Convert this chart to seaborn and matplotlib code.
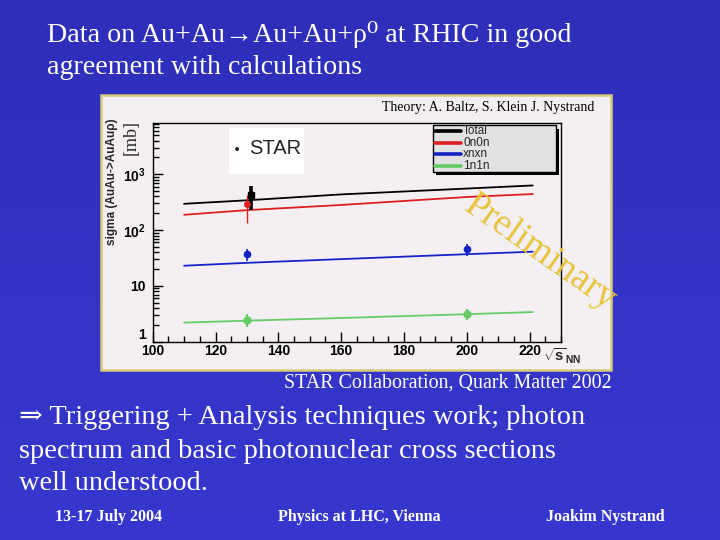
import numpy as np
import pandas as pd
import matplotlib
matplotlib.use("Agg")
import matplotlib.pyplot as plt
import seaborn as sns
from matplotlib.patches import Rectangle
from matplotlib.lines import Line2D
from matplotlib.ticker import FixedLocator, LogLocator, MultipleLocator, NullFormatter

# ---------------- data ----------------
sqrt_s = [110, 130, 160, 200, 221]
theory_total = [296, 342, 436, 555, 631]
theory_0n0n = [188, 228, 282, 392, 443]
theory_xnxn = [23, 25.9, 30.2, 37, 41]
theory_1n1n = [2.2, 2.38, 2.66, 3.11, 3.4]
series_names = ["Total", "0n0n", "xnxn", "1n1n"]
series_colors = ["#000000", "#dd1f1f", "#1424c4", "#66cc66"]

star_total_x = [131.2]
star_total_y = [418]
star_total_lo = [225]
star_total_hi = [624]

star_0n0n_x = [130]
star_0n0n_y = [296]
star_0n0n_lo = [134]
star_0n0n_hi = [430]

star_xnxn_x = [130, 200]
star_xnxn_y = [37, 46]
star_xnxn_lo = [28, 35]
star_xnxn_hi = [46, 56]

star_1n1n_x = [130, 200]
star_1n1n_y = [2.45, 3.1]
star_1n1n_lo = [1.8, 2.4]
star_1n1n_hi = [3.1, 3.9]

y_ticks = [1, 10, 100, 1000]
y_tick_labels = ["1", "10", r"$10^{2}$", r"$10^{3}$"]
x_ticks = [100, 120, 140, 160, 180, 200, 220]

# ---------------- style ----------------
sns.set_style("ticks")
plt.rcParams["font.family"] = ["Liberation Serif", "DejaVu Serif"]
plt.rcParams["mathtext.fontset"] = "custom"
plt.rcParams["mathtext.rm"] = "Liberation Sans:bold"
plt.rcParams["mathtext.it"] = "Liberation Sans:bold"
plt.rcParams["mathtext.bf"] = "Liberation Sans:bold"

W, H = 720, 540
fig = plt.figure(figsize=(7.2, 5.4), dpi=100)


def fx(x):
    return x / W


def fy(y):
    return 1 - y / H


# background gradient
bg = fig.add_axes([0, 0, 1, 1], zorder=-3)
grad = np.linspace(0, 1, 256).reshape(-1, 1)
top = np.array([0x2e, 0x2e, 0xba]) / 255
bot = np.array([0x37, 0x37, 0xcf]) / 255
img = top[None, None, :] * (1 - grad[:, :, None]) + bot[None, None, :] * grad[:, :, None]
bg.imshow(img, aspect="auto", extent=[0, 1, 0, 1])
bg.set_axis_off()

# chart panel
panel = Rectangle((fx(101), fy(370)), fx(611) - fx(101), fy(95) - fy(370),
                  transform=fig.transFigure, facecolor="#f3eff3",
                  edgecolor="#d6cc7a", linewidth=1.8, zorder=-2)
fig.patches.append(panel)

# main axes
ax = fig.add_axes([fx(152.7), fy(341.7), fx(561) - fx(152.7), fy(123.3) - fy(341.7)], zorder=0)
ax.set_facecolor("#f3eff3")

df = pd.DataFrame({
    "sqrt_s": sqrt_s * 4,
    "sigma": theory_total + theory_0n0n + theory_xnxn + theory_1n1n,
    "channel": [n for n in series_names for _ in sqrt_s],
})
sns.lineplot(data=df, x="sqrt_s", y="sigma", hue="channel", hue_order=series_names,
             palette=series_colors, linewidth=1.3, legend=False, ax=ax)

data_sets = [
    (star_total_x, star_total_y, star_total_lo, star_total_hi, series_colors[0], "s", 4.0, 2.6),
    (star_0n0n_x, star_0n0n_y, star_0n0n_lo, star_0n0n_hi, series_colors[1], "o", 4.0, 1.0),
    (star_xnxn_x, star_xnxn_y, star_xnxn_lo, star_xnxn_hi, series_colors[2], "o", 4.5, 1.2),
    (star_1n1n_x, star_1n1n_y, star_1n1n_lo, star_1n1n_hi, series_colors[3], "o", 5.0, 1.5),
]
for xs, ys, lo, hi, c, m, ms, elw in data_sets:
    ys = np.array(ys, float)
    yerr = [ys - np.array(lo), np.array(hi) - ys]
    ax.errorbar(xs, ys, yerr=yerr, fmt=m, color=c, ecolor=c, markersize=ms,
                elinewidth=elw, capsize=0, zorder=4)

ax.set_yscale("log")
ax.set_xlim(100, 230)
ax.set_ylim(1, 8200)
ax.yaxis.set_major_locator(FixedLocator(y_ticks))
ax.set_yticks(y_ticks)
ax.set_yticklabels(y_tick_labels)
ax.yaxis.set_minor_locator(LogLocator(base=10, subs=np.arange(2, 10)))
ax.yaxis.set_minor_formatter(NullFormatter())
ax.set_xticks(x_ticks)
ax.set_xticklabels([str(v) for v in x_ticks])
ax.xaxis.set_minor_locator(MultipleLocator(5))
ax.tick_params(which="both", direction="in", top=False, right=False, colors="black")
ax.tick_params(which="major", length=7, width=1)
ax.tick_params(which="minor", length=4, width=1)
ax.tick_params(axis="x", labelsize=10, pad=2)
ax.tick_params(axis="y", labelsize=10, pad=5)
for lab in ax.get_xticklabels() + ax.get_yticklabels():
    lab.set_fontfamily("Liberation Sans")
    lab.set_fontweight("bold")
ax.get_yticklabels()[0].set_va("bottom")
for s in ax.spines.values():
    s.set_visible(True)
    s.set_color("black")
    s.set_linewidth(1.0)
ax.set_xlabel("")
ax.set_ylabel("")

# axis titles
fig.text(fx(112), fy(182), "sigma (AuAu->AuAuρ)", rotation=90, ha="center", va="center",
         fontsize=8.5, fontweight="bold", family=["Liberation Sans", "DejaVu Sans"], zorder=3)
fig.text(fx(131), fy(137), "[mb]", rotation=90, ha="center", va="center",
         fontsize=13, family=["Liberation Serif", "DejaVu Serif"], zorder=3)
fig.text(fx(543), fy(356), r"$\sqrt{s}_{NN}$", ha="left", va="center", fontsize=10.5, zorder=3)
fig.text(fx(594), fy(108), "Theory: A. Baltz, S. Klein J. Nystrand", ha="right", va="center",
         fontsize=10, color="black", zorder=3)

# STAR label box
fig.patches.append(Rectangle((fx(229), fy(174)), fx(304) - fx(229), fy(128) - fy(174),
                             transform=fig.transFigure, facecolor="white", edgecolor="none", zorder=2))
fig.text(fx(237), fy(150), "•", ha="center", va="center", fontsize=10,
         family=["DejaVu Sans"], zorder=3)
fig.text(fx(249), fy(148), "STAR", ha="left", va="center", fontsize=14.5,
         family=["Liberation Sans"], zorder=3)

# legend box with ROOT-like shadow
fig.patches.append(Rectangle((fx(436), fy(175)), fx(559) - fx(436), fy(129) - fy(175),
                             transform=fig.transFigure, facecolor="black", edgecolor="none", zorder=2))
fig.patches.append(Rectangle((fx(433), fy(172)), fx(556) - fx(433), fy(125) - fy(172),
                             transform=fig.transFigure, facecolor="#e2e2e2", edgecolor="black",
                             linewidth=1, zorder=2.1))
row_y = [130.7, 142.7, 154, 165.7]
for name, c, yy in zip(series_names, series_colors, row_y):
    fig.lines.append(Line2D([fx(435), fx(461)], [fy(yy), fy(yy)], transform=fig.transFigure,
                            color=c, linewidth=2.6, zorder=2.5))
    fig.text(fx(463), fy(yy), name, ha="left", va="center", fontsize=8.5,
             family=["Liberation Sans"], zorder=3)

# Preliminary watermark
fig.text(fx(540), fy(253), "Preliminary", rotation=-35, rotation_mode="anchor",
         ha="center", va="center", fontsize=27, color="#e8c43c", zorder=5)

# slide texts
serif = ["Liberation Serif", "DejaVu Serif"]
fig.text(fx(47), fy(35), "Data on Au+Au→Au+Au+ρ⁰ at RHIC in good", ha="left", va="center",
         fontsize=20.2, color="white", family=serif)
fig.text(fx(47), fy(67), "agreement with calculations", ha="left", va="center",
         fontsize=20.2, color="white", family=serif)
fig.text(fx(612), fy(383), "STAR Collaboration, Quark Matter 2002", ha="right", va="center",
         fontsize=14.4, color="white", family=serif)
fig.text(fx(19), fy(418), "⇒ Triggering + Analysis techniques work; photon", ha="left", va="center",
         fontsize=20.4, color="white", family=serif)
fig.text(fx(19), fy(451), "spectrum and basic photonuclear cross sections", ha="left", va="center",
         fontsize=20.4, color="white", family=serif)
fig.text(fx(19), fy(484), "well understood.", ha="left", va="center",
         fontsize=20.4, color="white", family=serif)
fig.text(fx(55), fy(517), "13-17 July 2004", ha="left", va="center",
         fontsize=11.5, fontweight="bold", color="white", family=serif)
fig.text(fx(278), fy(517), "Physics at LHC, Vienna", ha="left", va="center",
         fontsize=11.5, fontweight="bold", color="white", family=serif)
fig.text(fx(665), fy(517), "Joakim Nystrand", ha="right", va="center",
         fontsize=11.5, fontweight="bold", color="white", family=serif)

fig.savefig("out.png", dpi=100)
